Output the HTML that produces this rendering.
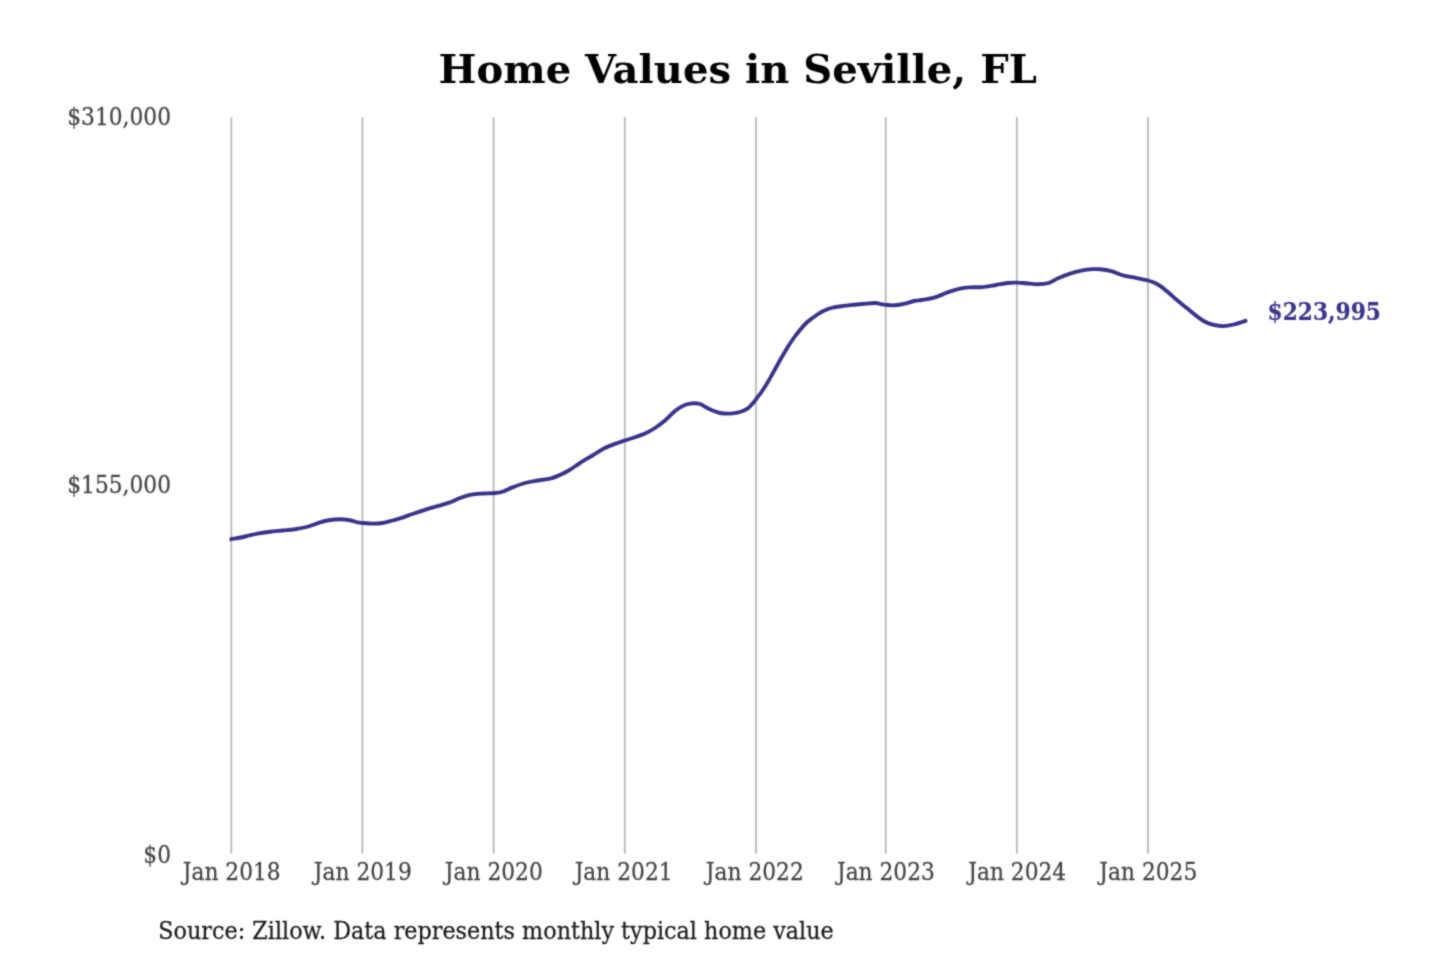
<!DOCTYPE html>
<html lang="en">
<head>
<meta charset="utf-8">
<title>Home Values in Seville, FL</title>
<style>
html,body{margin:0;padding:0;background:#fff;}
body{width:1440px;height:960px;overflow:hidden;font-family:"DejaVu Serif","Liberation Serif",serif;}
svg{display:block;}
.title{font-weight:bold;font-size:40.1px;fill:#000;}
.tick{font-size:21.75px;fill:#464646;stroke:#464646;stroke-width:0.25;}
.src{font-size:22.3px;fill:#1c1c1c;stroke:#1c1c1c;stroke-width:0.25;}
.val{font-size:21.75px;font-weight:bold;fill:#3a3590;stroke:#3a3590;stroke-width:0.2;}
.grid line{stroke:#b9b9b9;stroke-width:1.8;}
</style>
</head>
<body>
<svg width="1440" height="960" viewBox="0 0 1440 960" font-family="'DejaVu Serif','Liberation Serif',serif">
<defs><filter id="soft" x="0" y="0" width="1440" height="960" filterUnits="userSpaceOnUse" color-interpolation-filters="sRGB"><feConvolveMatrix order="3" kernelMatrix="1 3 1 3 12 3 1 3 1" edgeMode="duplicate" preserveAlpha="false"/></filter></defs>
<rect width="1440" height="960" fill="#ffffff"/>
<g filter="url(#soft)">
<text class="title" transform="translate(737.70,83.30) scale(1,0.985)" text-anchor="middle">Home Values in Seville, FL</text>
<g class="grid"><line x1="231.30" y1="116.9" x2="231.30" y2="853.7"/><line x1="362.40" y1="116.9" x2="362.40" y2="853.7"/><line x1="493.60" y1="116.9" x2="493.60" y2="853.7"/><line x1="624.80" y1="116.9" x2="624.80" y2="853.7"/><line x1="756.00" y1="116.9" x2="756.00" y2="853.7"/><line x1="885.70" y1="116.9" x2="885.70" y2="853.7"/><line x1="1016.90" y1="116.9" x2="1016.90" y2="853.7"/><line x1="1148.00" y1="116.9" x2="1148.00" y2="853.7"/></g>
<g class="tick">
<text transform="translate(171.00,124.60) scale(1,1.085)" text-anchor="end">$310,000</text>
<text transform="translate(171.00,492.60) scale(1,1.085)" text-anchor="end">$155,000</text>
<text transform="translate(171.00,863.40) scale(1,1.085)" text-anchor="end">$0</text>
<text transform="translate(231.70,879.60) scale(1,1.085)" text-anchor="middle">Jan 2018</text>
<text transform="translate(362.80,879.60) scale(1,1.085)" text-anchor="middle">Jan 2019</text>
<text transform="translate(493.80,879.60) scale(1,1.085)" text-anchor="middle">Jan 2020</text>
<text transform="translate(623.60,879.60) scale(1,1.085)" text-anchor="middle">Jan 2021</text>
<text transform="translate(754.80,879.60) scale(1,1.085)" text-anchor="middle">Jan 2022</text>
<text transform="translate(885.90,879.60) scale(1,1.085)" text-anchor="middle">Jan 2023</text>
<text transform="translate(1017.20,879.60) scale(1,1.085)" text-anchor="middle">Jan 2024</text>
<text transform="translate(1148.30,879.60) scale(1,1.085)" text-anchor="middle">Jan 2025</text>
</g>
<path d="M231.30,539.25 C233.58,538.79 240.63,537.44 245.00,536.50 C249.37,535.56 253.33,534.39 257.50,533.60 C261.67,532.81 265.83,532.27 270.00,531.75 C274.17,531.23 278.33,530.92 282.50,530.50 C286.67,530.08 290.83,529.88 295.00,529.25 C299.17,528.62 303.33,527.89 307.50,526.75 C311.67,525.61 316.46,523.48 320.00,522.40 C323.54,521.32 325.42,520.77 328.75,520.25 C332.08,519.73 336.46,519.25 340.00,519.25 C343.54,519.25 347.08,519.73 350.00,520.25 C352.92,520.77 355.42,521.94 357.50,522.40 C359.58,522.86 359.79,522.80 362.50,523.00 C365.21,523.20 370.42,523.60 373.75,523.60 C377.08,523.60 379.38,523.52 382.50,523.00 C385.62,522.48 389.58,521.27 392.50,520.50 C395.42,519.73 396.67,519.48 400.00,518.40 C403.33,517.32 408.33,515.42 412.50,514.00 C416.67,512.58 420.83,511.22 425.00,509.90 C429.17,508.58 433.33,507.35 437.50,506.10 C441.67,504.85 446.25,503.75 450.00,502.40 C453.75,501.05 456.67,499.25 460.00,498.00 C463.33,496.75 466.46,495.63 470.00,494.90 C473.54,494.17 477.33,493.88 481.25,493.60 C485.17,493.33 489.96,493.56 493.50,493.25 C497.04,492.94 499.33,492.73 502.50,491.75 C505.67,490.77 508.75,488.86 512.50,487.40 C516.25,485.94 520.83,484.15 525.00,483.00 C529.17,481.85 533.33,481.23 537.50,480.50 C541.67,479.77 546.46,479.43 550.00,478.60 C553.54,477.77 555.62,476.85 558.75,475.50 C561.88,474.15 565.21,472.58 568.75,470.50 C572.29,468.42 576.04,465.50 580.00,463.00 C583.96,460.50 588.33,458.00 592.50,455.50 C596.67,453.00 600.83,450.08 605.00,448.00 C609.17,445.92 614.21,444.25 617.50,443.00 C620.79,441.75 621.62,441.54 624.75,440.50 C627.88,439.46 632.88,437.90 636.25,436.75 C639.62,435.60 641.88,435.06 645.00,433.60 C648.12,432.14 651.67,430.18 655.00,428.00 C658.33,425.82 661.67,423.32 665.00,420.50 C668.33,417.68 672.08,413.50 675.00,411.10 C677.92,408.70 680.00,407.35 682.50,406.10 C685.00,404.85 687.29,404.02 690.00,403.60 C692.71,403.18 696.25,403.08 698.75,403.60 C701.25,404.12 702.71,405.60 705.00,406.75 C707.29,407.90 710.00,409.46 712.50,410.50 C715.00,411.54 717.08,412.48 720.00,413.00 C722.92,413.52 726.67,413.77 730.00,413.60 C733.33,413.43 737.08,412.83 740.00,412.00 C742.92,411.17 745.42,410.00 747.50,408.60 C749.58,407.20 751.08,405.16 752.50,403.60 C753.92,402.04 754.33,401.43 756.00,399.25 C757.67,397.07 760.38,393.62 762.50,390.50 C764.62,387.38 766.67,384.04 768.75,380.50 C770.83,376.96 772.92,373.00 775.00,369.25 C777.08,365.50 779.17,361.64 781.25,358.00 C783.33,354.36 785.42,350.73 787.50,347.40 C789.58,344.07 791.67,340.92 793.75,338.00 C795.83,335.08 797.92,332.40 800.00,329.90 C802.08,327.40 804.17,324.98 806.25,323.00 C808.33,321.02 810.42,319.57 812.50,318.00 C814.58,316.43 816.67,314.89 818.75,313.60 C820.83,312.31 822.92,311.18 825.00,310.25 C827.08,309.32 829.17,308.58 831.25,308.00 C833.33,307.42 834.38,307.23 837.50,306.75 C840.62,306.27 845.83,305.56 850.00,305.10 C854.17,304.64 858.33,304.35 862.50,304.00 C866.67,303.65 871.88,302.96 875.00,303.00 C878.12,303.04 879.42,303.93 881.25,304.25 C883.08,304.57 883.71,304.73 886.00,304.90 C888.29,305.07 891.83,305.47 895.00,305.25 C898.17,305.03 901.67,304.35 905.00,303.60 C908.33,302.85 912.17,301.35 915.00,300.75 C917.83,300.15 918.67,300.56 922.00,300.00 C925.33,299.44 930.75,298.67 935.00,297.40 C939.25,296.13 943.33,293.87 947.50,292.40 C951.67,290.93 956.25,289.43 960.00,288.60 C963.75,287.77 966.25,287.65 970.00,287.40 C973.75,287.15 978.33,287.46 982.50,287.10 C986.67,286.74 990.83,285.93 995.00,285.25 C999.17,284.57 1003.92,283.44 1007.50,283.00 C1011.08,282.56 1013.38,282.56 1016.50,282.60 C1019.62,282.64 1022.75,282.98 1026.25,283.25 C1029.75,283.52 1033.75,284.29 1037.50,284.25 C1041.25,284.21 1045.42,283.94 1048.75,283.00 C1052.08,282.06 1053.96,280.17 1057.50,278.60 C1061.04,277.03 1065.83,274.97 1070.00,273.60 C1074.17,272.23 1078.75,271.13 1082.50,270.40 C1086.25,269.67 1089.58,269.39 1092.50,269.20 C1095.42,269.01 1096.88,268.93 1100.00,269.25 C1103.12,269.57 1107.50,270.10 1111.25,271.10 C1115.00,272.10 1118.75,274.20 1122.50,275.25 C1126.25,276.30 1129.50,276.52 1133.75,277.40 C1138.00,278.27 1144.04,279.36 1148.00,280.50 C1151.96,281.64 1154.25,282.38 1157.50,284.25 C1160.75,286.12 1164.17,289.04 1167.50,291.75 C1170.83,294.46 1174.17,297.69 1177.50,300.50 C1180.83,303.31 1184.17,305.89 1187.50,308.60 C1190.83,311.31 1194.58,314.56 1197.50,316.75 C1200.42,318.94 1202.29,320.39 1205.00,321.75 C1207.71,323.11 1210.62,324.17 1213.75,324.90 C1216.88,325.62 1220.42,326.17 1223.75,326.10 C1227.08,326.03 1230.11,325.38 1233.75,324.50 C1237.39,323.62 1243.62,321.42 1245.60,320.80" fill="none" stroke="#38348c" stroke-width="3.85" stroke-linecap="round" stroke-linejoin="round"/>
<text class="val" transform="translate(1267.50,319.90) scale(1,1.1)" text-anchor="start">$223,995</text>
<text class="src" transform="translate(158.30,938.60) scale(1,1.045)" text-anchor="start">Source: Zillow. Data represents monthly typical home value</text>
</g>
</svg>
</body>
</html>
